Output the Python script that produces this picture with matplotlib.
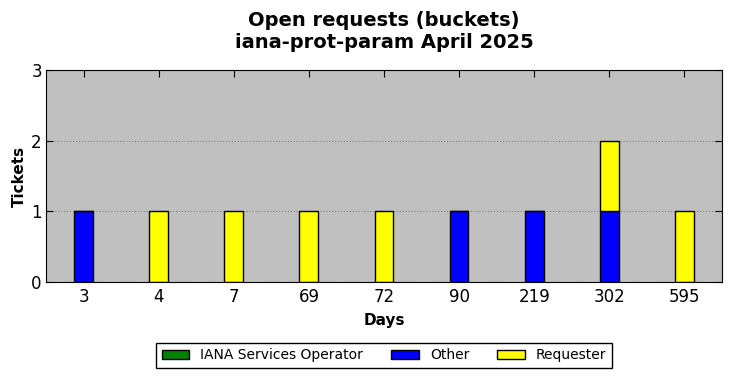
import matplotlib
matplotlib.use("Agg")
import matplotlib.pyplot as plt
import numpy as np

days = ["3", "4", "7", "69", "72", "90", "219", "302", "595"]
operator = [0, 0, 0, 0, 0, 0, 0, 0, 0]
other = [1, 0, 0, 0, 0, 1, 1, 1, 0]
requester = [0, 1, 1, 1, 1, 0, 0, 1, 1]

fig = plt.figure(figsize=(7.31, 3.78), dpi=100)
ax = fig.add_axes([46 / 731, 1 - 282 / 378, 676 / 731, 212 / 378])
ax.set_facecolor("#c0c0c0")

x = np.arange(len(days))
w = 0.25
ax.bar(x, operator, w, color="green", edgecolor="black", label="IANA Services Operator")
ax.bar(x, other, w, bottom=operator, color="blue", edgecolor="black", label="Other")
base = np.array(operator) + np.array(other)
ax.bar(x, requester, w, bottom=base, color="yellow", edgecolor="black", label="Requester")

ax.set_xlim(-0.5, len(days) - 0.5)
ax.set_ylim(0, 3)
ax.set_yticks([0, 1, 2, 3])
ax.set_xticks(x)
ax.set_xticklabels(days)
ax.tick_params(direction="in", top=True, right=True, labelsize=12, length=5, pad=4)
ax.tick_params(axis="y", pad=3)
ax.yaxis.grid(True, linestyle=":", color="#808080", linewidth=0.8)
ax.set_axisbelow(True)

ax.set_xlabel("Days", fontsize=11, fontweight="bold", labelpad=5)
ax.set_ylabel("Tickets", fontsize=11, fontweight="bold", labelpad=3)
ax.set_title("Open requests (buckets)\niana-prot-param April 2025",
             fontsize=14, fontweight="bold", pad=16)

fig.legend(loc="lower center", ncol=3, bbox_to_anchor=(384 / 731, 0.008),
           fontsize=10, fancybox=False, edgecolor="black", framealpha=1,
           handlelength=2.0, columnspacing=2.0)

fig.savefig("out.png", dpi=100)
